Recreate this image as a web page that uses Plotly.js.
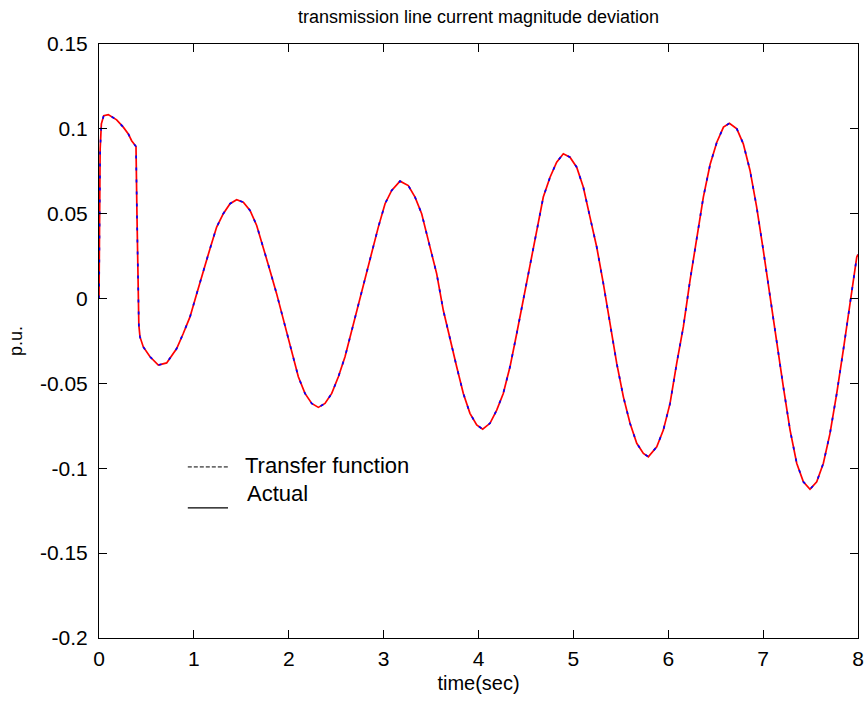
<!DOCTYPE html>
<html>
<head>
<meta charset="utf-8">
<script src="https://cdn.plot.ly/plotly-3.0.1.min.js"></script>
<style>
  html, body { margin: 0; padding: 0; background: #fff; }
  #chart { width: 865px; height: 702px; }
</style>
</head>
<body>
<div id="chart"></div>
<script>
// Time axis (seconds)
const timeSec = [
  0, 0.004, 0.012, 0.025, 0.05, 0.098, 0.134, 0.186, 0.256, 0.309, 0.344, 0.39,
  0.40, 0.42, 0.432, 0.467, 0.538, 0.625, 0.713, 0.819, 0.888, 0.959, 1.03, 1.099,
  1.17, 1.24, 1.31, 1.381, 1.451, 1.521, 1.592, 1.662, 1.731, 1.802, 1.872, 1.943,
  2.031, 2.101, 2.171, 2.242, 2.312, 2.382, 2.453, 2.523, 2.593, 2.664, 2.733, 2.804,
  2.874, 2.944, 3.015, 3.085, 3.173, 3.26, 3.331, 3.401, 3.471, 3.559, 3.629, 3.70,
  3.77, 3.84, 3.91, 3.981, 4.044, 4.121, 4.192, 4.261, 4.332, 4.403, 4.472, 4.543,
  4.614, 4.683, 4.754, 4.824, 4.894, 4.964, 5.035, 5.105, 5.175, 5.246, 5.316, 5.386,
  5.457, 5.527, 5.597, 5.668, 5.738, 5.79, 5.879, 5.948, 6.019, 6.089, 6.159, 6.23,
  6.30, 6.37, 6.441, 6.512, 6.582, 6.645, 6.723, 6.791, 6.862, 6.932, 7.002, 7.073,
  7.144, 7.213, 7.284, 7.354, 7.424, 7.494, 7.565, 7.635, 7.705, 7.776, 7.845, 7.916,
  7.951, 7.987, 8.0
];

// Line current magnitude deviation (p.u.), measured response
const actual = [
  0, 0.085, 0.088, 0.103, 0.1078, 0.1084, 0.107, 0.1053, 0.101, 0.097, 0.093, 0.0896,
  0.05, -0.0157, -0.0226, -0.0285, -0.0343, -0.0392, -0.0379, -0.0294, -0.0206, -0.0108, 0.0029, 0.0166,
  0.0294, 0.0421, 0.050, 0.0559, 0.0582, 0.0568, 0.0519, 0.0431, 0.0304, 0.0166, 0.0029, -0.0128,
  -0.0324, -0.0461, -0.0559, -0.0618, -0.0641, -0.0618, -0.0559, -0.0461, -0.0343, -0.0186, -0.0029, 0.0127,
  0.0284, 0.0421, 0.0559, 0.0637, 0.0692, 0.0666, 0.0598, 0.050, 0.0343, 0.0147, -0.0069, -0.0245,
  -0.0402, -0.0559, -0.0676, -0.0745, -0.0769, -0.0735, -0.0657, -0.0559, -0.0402, -0.0206, -0.001, 0.0206,
  0.0402, 0.0598, 0.0715, 0.0804, 0.0853, 0.0833, 0.0774, 0.0656, 0.048, 0.0304, 0.0088, -0.0147,
  -0.0382, -0.0579, -0.0735, -0.0853, -0.0912, -0.0932, -0.0873, -0.0775, -0.0618, -0.0382, -0.0167, 0.0108,
  0.0343, 0.0598, 0.079, 0.0921, 0.101, 0.1033, 0.100, 0.0912, 0.0755, 0.0539, 0.0284, 0.0009,
  -0.0265, -0.052, -0.0775, -0.097, -0.1079, -0.1124, -0.1079, -0.097, -0.0794, -0.0559, -0.0304, -0.0029,
  0.0127, 0.0245, 0.026
];

// Transfer-function model output (p.u.), overlays the measured response
const transferFunction = [
  0, 0.085, 0.088, 0.103, 0.1078, 0.1084, 0.107, 0.1053, 0.101, 0.097, 0.093, 0.0896,
  0.05, -0.0157, -0.0226, -0.0285, -0.0343, -0.0392, -0.0379, -0.0294, -0.0206, -0.0108, 0.0029, 0.0166,
  0.0294, 0.0421, 0.050, 0.0559, 0.0582, 0.0568, 0.0519, 0.0431, 0.0304, 0.0166, 0.0029, -0.0128,
  -0.0324, -0.0461, -0.0559, -0.0618, -0.0641, -0.0618, -0.0559, -0.0461, -0.0343, -0.0186, -0.0029, 0.0127,
  0.0284, 0.0421, 0.0559, 0.0637, 0.0692, 0.0666, 0.0598, 0.050, 0.0343, 0.0147, -0.0069, -0.0245,
  -0.0402, -0.0559, -0.0676, -0.0745, -0.0769, -0.0735, -0.0657, -0.0559, -0.0402, -0.0206, -0.001, 0.0206,
  0.0402, 0.0598, 0.0715, 0.0804, 0.0853, 0.0833, 0.0774, 0.0656, 0.048, 0.0304, 0.0088, -0.0147,
  -0.0382, -0.0579, -0.0735, -0.0853, -0.0912, -0.0932, -0.0873, -0.0775, -0.0618, -0.0382, -0.0167, 0.0108,
  0.0343, 0.0598, 0.079, 0.0921, 0.101, 0.1033, 0.100, 0.0912, 0.0755, 0.0539, 0.0284, 0.0009,
  -0.0265, -0.052, -0.0775, -0.097, -0.1079, -0.1124, -0.1079, -0.097, -0.0794, -0.0559, -0.0304, -0.0029,
  0.0127, 0.0245, 0.026
];

// Axis ticks
const xTickVals = [0, 1, 2, 3, 4, 5, 6, 7, 8];
const xTickText = ["0", "1", "2", "3", "4", "5", "6", "7", "8"];
const yTickVals = [-0.2, -0.15, -0.1, -0.05, 0, 0.05, 0.1, 0.15];
const yTickText = ["-0.2", "-0.15", "-0.1", "-0.05", "0", "0.05", "0.1", "0.15"];

// Legend labels
const legendLabels = ["Transfer function", "Actual"];

const FONT = '"Liberation Sans", Arial, Helvetica, sans-serif';

const traces = [
  {
    x: timeSec, y: actual, type: 'scatter', mode: 'lines', name: legendLabels[1],
    line: { color: '#ff0000', width: 1.7 },
    showlegend: false, hoverinfo: 'skip'
  },
  {
    x: timeSec, y: transferFunction, type: 'scatter', mode: 'lines', name: legendLabels[0],
    line: { color: '#0000ff', width: 1.7, dash: '3px,9px' },
    showlegend: false, hoverinfo: 'skip'
  }
];

const axisCommon = {
  showgrid: false, zeroline: false,
  showline: true, linecolor: '#000', linewidth: 1, mirror: 'allticks',
  ticks: 'inside', ticklen: 8, tickwidth: 1, tickcolor: '#000',
  tickfont: { family: FONT, size: 21, color: '#000' },
  tickmode: 'array'
};

// Legend drawn in the plot area: black line samples with labels beside them
const legendShapes = [
  { type: 'line', xref: 'paper', yref: 'paper', x0: 0.117, x1: 0.170, y0: 0.288, y1: 0.288,
    line: { color: '#000', width: 1, dash: '4px,2px' } },
  { type: 'line', xref: 'paper', yref: 'paper', x0: 0.117, x1: 0.170, y0: 0.219, y1: 0.219,
    line: { color: '#000', width: 1.3 } }
];
const legendNotes = [
  { xref: 'paper', yref: 'paper', x: 0.190, y: 0.2896, xanchor: 'left', yanchor: 'middle',
    text: legendLabels[0], showarrow: false, font: { family: FONT, size: 22, color: '#000' } },
  { xref: 'paper', yref: 'paper', x: 0.193, y: 0.2441, xanchor: 'left', yanchor: 'middle',
    text: legendLabels[1], showarrow: false, font: { family: FONT, size: 22, color: '#000' } }
];

const layout = {
  width: 865, height: 702,
  paper_bgcolor: '#fff', plot_bgcolor: '#fff',
  margin: { l: 99, r: 7, t: 44, b: 64 },
  title: {
    text: 'transmission line current magnitude deviation',
    font: { family: FONT, size: 18, color: '#000' },
    xref: 'paper', x: 0.5, xanchor: 'center', y: 1 - 17 / 702, yanchor: 'middle'
  },
  xaxis: Object.assign({}, axisCommon, {
    range: [0, 8], tickvals: xTickVals, ticktext: xTickText,
    ticklabelstandoff: 2,
    title: { text: 'time(sec)', font: { family: FONT, size: 20, color: '#000' }, standoff: 6 }
  }),
  yaxis: Object.assign({}, axisCommon, {
    range: [-0.2, 0.15], tickvals: yTickVals, ticktext: yTickText,
    ticklabelstandoff: 6,
    title: { text: 'p.u.', font: { family: FONT, size: 18, color: '#000' }, standoff: 12 }
  }),
  showlegend: false,
  shapes: legendShapes,
  annotations: legendNotes
};

Plotly.newPlot('chart', traces, layout, { displayModeBar: false, staticPlot: true });
</script>
</body>
</html>
